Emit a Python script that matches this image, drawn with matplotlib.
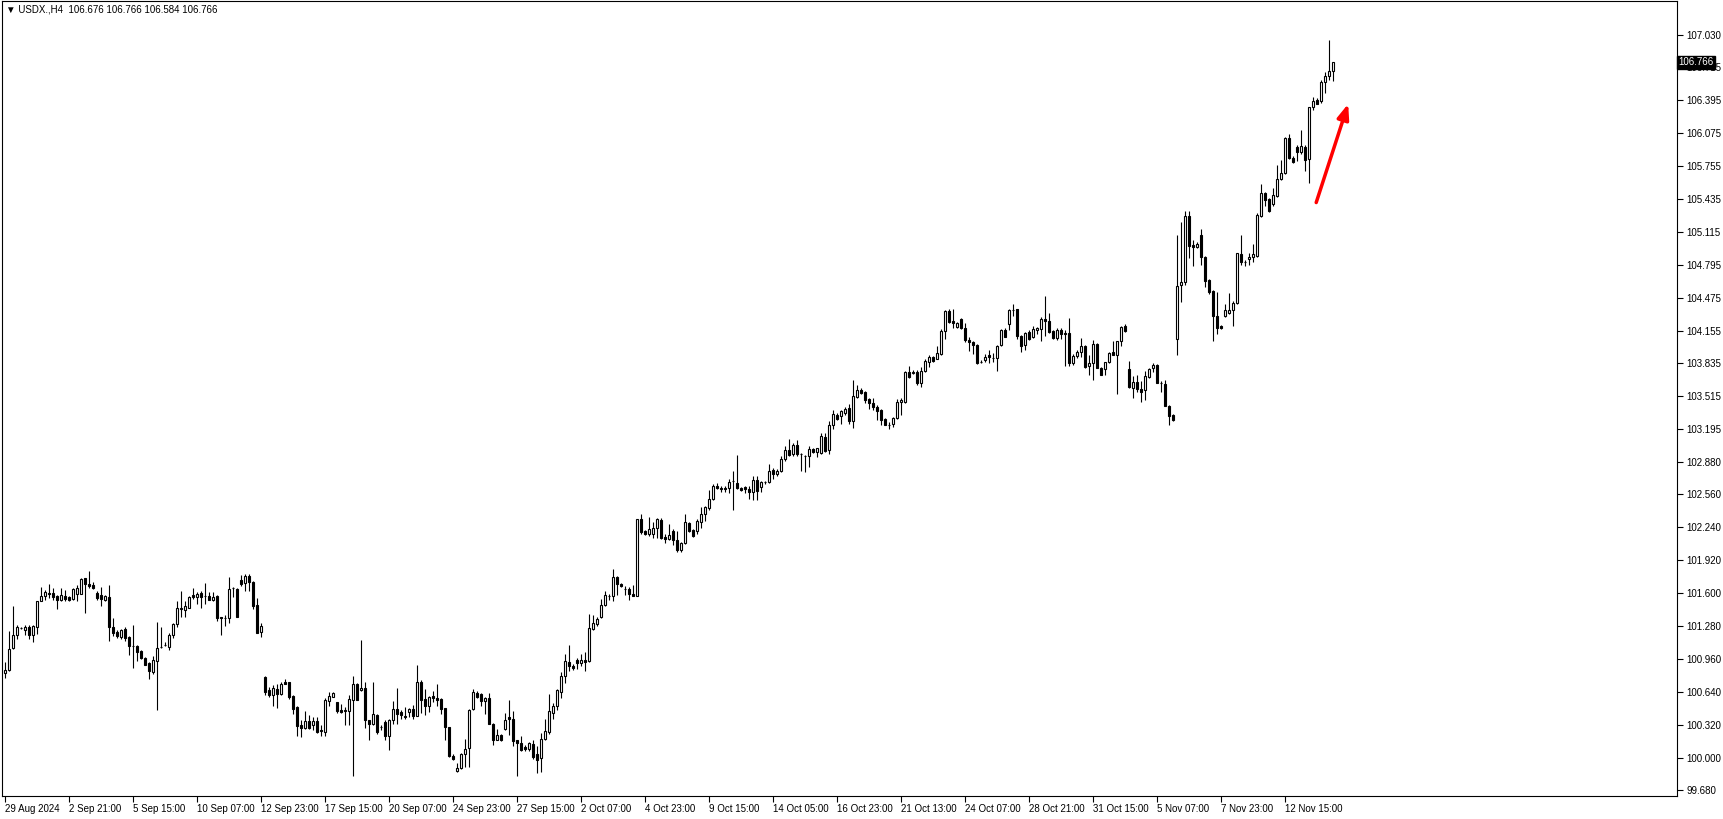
import numpy as np
import matplotlib
matplotlib.use("Agg")
import matplotlib.pyplot as plt
import matplotlib.transforms as mtransforms

plt.rcParams['font.family'] = ['Liberation Sans', 'DejaVu Sans']

# USDX H4 candles (oldest first)
opens = [
    100.82,100.85,101.07,101.19,101.26,101.24,101.27,101.19,101.27,101.52,101.57,101.60,101.60,101.57,101.53,101.57,101.56,101.54,101.59,101.59,101.75,101.69,101.68,101.60,101.58,101.53,101.56,101.27,101.22,101.17,101.25,101.17,101.09,101.09,
    101.04,100.97,100.92,100.83,100.94,101.08,101.10,101.08,101.19,101.30,101.45,101.44,101.46,101.58,101.56,101.60,101.57,101.57,101.53,101.57,101.37,101.36,101.36,101.65,101.64,101.73,101.70,101.77,101.71,101.48,101.22,100.78,100.66,100.61,
    100.67,100.62,100.74,100.74,100.60,100.49,100.32,100.29,100.36,100.32,100.36,100.27,100.25,100.55,100.59,100.54,100.46,100.46,100.45,100.56,100.72,100.66,100.68,100.37,100.33,100.41,100.30,100.35,100.21,100.37,100.47,100.44,100.40,100.44,
    100.47,100.40,100.74,100.57,100.50,100.60,100.58,100.57,100.48,100.30,100.02,99.87,99.90,100.03,100.09,100.47,100.63,100.62,100.55,100.58,100.33,100.17,100.22,100.28,100.39,100.38,100.17,100.14,100.10,100.08,100.13,100.03,100.00,
    100.18,100.25,100.43,100.50,100.64,100.79,100.93,100.89,100.95,100.92,100.95,100.94,101.25,101.30,101.37,101.48,101.57,101.57,101.76,101.69,101.64,101.64,101.59,101.57,102.32,102.20,102.18,102.18,102.23,102.31,102.15,102.13,102.20,102.12,
    102.02,102.09,102.28,102.21,102.20,102.29,102.37,102.43,102.52,102.64,102.62,102.62,102.62,102.69,102.67,102.62,102.63,102.61,102.58,102.70,102.63,102.68,102.68,102.80,102.76,102.79,102.90,102.99,102.95,103.04,102.95,102.93,102.93,103.00,
    102.97,102.96,103.12,102.99,103.24,103.33,103.32,103.35,103.40,103.27,103.51,103.58,103.56,103.49,103.45,103.41,103.38,103.29,103.24,103.25,103.30,103.46,103.46,103.75,103.74,103.75,103.64,103.76,103.85,103.90,103.88,103.93,104.15,
    104.34,104.25,104.19,104.27,104.18,104.06,104.04,104.01,103.85,103.87,103.92,103.89,103.89,104.01,104.16,104.22,104.35,104.36,104.10,104.01,104.14,104.09,104.16,104.17,104.27,104.25,104.15,104.08,104.16,104.13,104.13,103.84,103.91,103.95,
    104.00,103.81,103.84,104.02,103.79,103.78,103.85,103.95,103.92,104.05,104.20,103.78,103.60,103.65,103.59,103.58,103.70,103.79,103.82,103.64,103.63,103.42,103.33,104.07,104.60,104.63,105.27,104.99,104.97,105.08,104.87,104.65,104.54,104.30,
    104.20,104.30,104.33,104.35,104.42,104.90,104.82,104.85,104.87,104.88,105.27,105.49,105.43,105.39,105.46,105.63,105.69,106.03,105.83,105.94,105.89,105.94,105.82,106.33,106.40,106.39,106.57,106.63,106.676,
]
highs = [
    100.93,101.23,101.47,101.29,101.27,101.29,101.29,101.29,101.52,101.66,101.63,101.69,101.65,101.58,101.65,101.63,101.57,101.65,101.68,101.75,101.75,101.82,101.71,101.62,101.66,101.58,101.68,101.36,101.24,101.25,101.27,101.18,101.29,101.10,
    101.05,100.98,100.93,100.99,101.32,101.27,101.12,101.21,101.31,101.52,101.62,101.52,101.57,101.65,101.61,101.62,101.70,101.61,101.61,101.58,101.37,101.39,101.76,101.66,101.65,101.78,101.79,101.79,101.72,101.55,101.31,100.79,100.69,100.71,
    100.72,100.74,100.76,100.74,100.61,100.50,100.37,100.45,100.41,100.39,100.39,100.32,100.58,100.64,100.64,100.54,100.52,100.49,100.61,100.79,100.73,101.14,100.74,100.37,100.74,100.42,100.32,100.37,100.38,100.55,100.68,100.46,100.49,100.48,
    100.51,100.90,100.75,100.67,100.60,100.65,100.72,100.58,100.48,100.30,100.03,99.95,100.04,100.18,100.47,100.67,100.65,100.63,100.59,100.63,100.34,100.28,100.23,100.43,100.56,100.45,100.17,100.21,100.12,100.15,100.17,100.11,100.24,
    100.38,100.62,100.53,100.67,100.83,101.01,101.10,100.91,100.97,101.01,101.03,101.40,101.39,101.37,101.54,101.62,101.59,101.83,101.77,101.70,101.67,101.66,101.68,102.32,102.37,102.21,102.34,102.29,102.33,102.33,102.18,102.27,102.22,102.20,
    102.10,102.37,102.29,102.22,102.32,102.44,102.45,102.60,102.66,102.67,102.64,102.64,102.71,102.79,102.94,102.63,102.64,102.64,102.74,102.74,102.69,102.69,102.86,102.82,102.81,102.93,103.03,103.10,103.06,103.09,102.96,102.94,103.03,103.01,
    103.01,103.16,103.16,103.27,103.38,103.35,103.38,103.41,103.44,103.67,103.62,103.60,103.57,103.50,103.50,103.43,103.39,103.30,103.26,103.31,103.49,103.50,103.76,103.81,103.77,103.77,103.80,103.88,103.92,103.91,104.00,104.17,104.35,
    104.36,104.36,104.24,104.28,104.23,104.09,104.05,104.02,103.87,103.93,103.97,103.94,104.01,104.17,104.18,104.36,104.41,104.36,104.11,104.14,104.16,104.20,104.19,104.29,104.49,104.33,104.16,104.18,104.18,104.16,104.28,103.93,103.97,104.08,
    104.01,103.92,104.06,104.03,103.80,103.85,103.95,104.05,104.05,104.20,104.22,103.86,103.71,103.72,103.66,103.76,103.79,103.84,103.83,103.66,103.67,103.43,103.34,105.08,105.21,105.32,105.32,105.04,105.02,105.14,104.88,104.66,104.55,104.53,
    104.21,104.41,104.52,104.44,104.91,105.08,104.84,104.91,105.00,105.30,105.58,105.50,105.44,105.54,105.77,105.81,106.04,106.07,105.85,105.96,106.11,105.96,106.33,106.43,106.42,106.59,106.67,106.98,106.766,
]
lows = [
    100.77,100.84,101.06,101.15,101.25,101.19,101.15,101.12,101.20,101.52,101.53,101.55,101.53,101.45,101.52,101.52,101.52,101.53,101.52,101.59,101.41,101.65,101.64,101.53,101.47,101.52,101.13,101.18,101.16,101.15,101.13,101.00,100.87,100.94,
    100.96,100.90,100.76,100.81,100.46,101.07,101.09,101.05,101.16,101.27,101.37,101.37,101.46,101.54,101.49,101.46,101.49,101.53,101.52,101.33,101.19,101.28,101.31,101.56,101.37,101.67,101.62,101.62,101.45,101.21,101.17,100.61,100.59,100.50,
    100.48,100.61,100.72,100.57,100.42,100.21,100.20,100.28,100.28,100.27,100.24,100.21,100.21,100.50,100.59,100.43,100.43,100.32,100.32,99.82,100.56,100.65,100.29,100.17,100.32,100.23,100.27,100.17,100.07,100.33,100.33,100.38,100.38,100.39,
    100.38,100.40,100.43,100.41,100.44,100.54,100.50,100.42,100.17,100.01,99.98,99.86,99.89,99.91,99.91,100.46,100.58,100.50,100.42,100.33,100.12,100.17,100.16,100.27,100.22,100.11,99.82,100.06,100.06,100.06,99.99,99.85,99.86,
    100.17,100.23,100.38,100.46,100.58,100.73,100.84,100.85,100.86,100.89,100.84,100.93,101.24,101.28,101.36,101.47,101.53,101.52,101.58,101.66,101.58,101.53,101.57,101.57,102.18,102.17,102.16,102.14,102.14,102.13,102.09,102.12,102.07,102.00,
    102.00,102.08,102.19,102.15,102.18,102.23,102.30,102.41,102.51,102.61,102.58,102.58,102.57,102.41,102.61,102.59,102.57,102.52,102.51,102.51,102.58,102.66,102.67,102.71,102.74,102.78,102.89,102.93,102.93,102.93,102.79,102.78,102.83,102.96,
    102.92,102.95,102.97,102.95,103.20,103.28,103.25,103.33,103.25,103.21,103.50,103.54,103.45,103.39,103.38,103.28,103.24,103.24,103.20,103.22,103.29,103.33,103.45,103.69,103.73,103.62,103.61,103.75,103.80,103.85,103.88,103.92,104.07,
    104.23,104.18,104.18,104.17,104.04,103.96,103.93,103.83,103.84,103.85,103.84,103.85,103.76,104.00,104.09,104.16,104.30,104.07,103.95,103.97,104.06,104.08,104.12,104.05,104.10,104.13,104.07,104.06,104.07,103.81,103.81,103.82,103.89,103.90,
    103.79,103.72,103.67,103.79,103.72,103.72,103.84,103.92,103.54,104.00,104.14,103.60,103.50,103.56,103.46,103.48,103.69,103.75,103.64,103.56,103.42,103.24,103.27,103.92,104.43,104.60,104.86,104.78,104.96,104.79,104.58,104.51,104.05,104.12,
    104.17,104.29,104.32,104.20,104.41,104.79,104.78,104.79,104.82,104.87,105.26,105.37,105.31,105.37,105.45,105.62,105.68,105.82,105.78,105.80,105.87,105.71,105.59,106.30,106.36,106.37,106.47,106.59,106.584,
]
closes = [
    100.85,101.06,101.19,101.27,101.26,101.27,101.19,101.28,101.52,101.57,101.61,101.59,101.56,101.53,101.58,101.54,101.53,101.64,101.65,101.74,101.69,101.67,101.65,101.55,101.54,101.57,101.27,101.21,101.18,101.24,101.16,101.09,101.09,101.03,
    100.97,100.90,100.84,100.95,101.07,101.08,101.10,101.19,101.30,101.46,101.46,101.47,101.56,101.56,101.59,101.56,101.57,101.53,101.56,101.36,101.36,101.36,101.64,101.65,101.37,101.69,101.77,101.71,101.47,101.21,101.28,100.64,100.61,100.68,
    100.62,100.72,100.72,100.59,100.47,100.31,100.29,100.36,100.29,100.36,100.25,100.26,100.56,100.60,100.63,100.45,100.44,100.45,100.57,100.72,100.56,100.68,100.37,100.33,100.42,100.25,100.30,100.21,100.37,100.47,100.42,100.41,100.39,100.47,
    100.40,100.74,100.56,100.50,100.59,100.58,100.56,100.47,100.30,100.02,99.99,99.90,100.03,100.08,100.46,100.64,100.59,100.55,100.58,100.33,100.17,100.22,100.17,100.37,100.38,100.16,100.14,100.07,100.08,100.14,100.01,99.98,100.18,
    100.26,100.45,100.50,100.66,100.79,100.94,100.89,100.87,100.92,100.95,100.93,101.26,101.31,101.35,101.48,101.58,101.57,101.76,101.69,101.67,101.64,101.59,101.57,102.32,102.19,102.18,102.22,102.23,102.32,102.14,102.13,102.17,102.12,102.02,
    102.09,102.29,102.20,102.16,102.30,102.37,102.44,102.52,102.64,102.62,102.61,102.61,102.68,102.69,102.62,102.60,102.61,102.58,102.70,102.59,102.68,102.68,102.79,102.76,102.79,102.90,102.99,102.94,103.04,102.95,102.95,102.93,103.00,102.97,
    103.01,103.13,102.98,103.24,103.34,103.29,103.37,103.39,103.27,103.52,103.58,103.55,103.48,103.45,103.41,103.37,103.28,103.24,103.24,103.30,103.46,103.48,103.75,103.70,103.75,103.64,103.76,103.86,103.90,103.86,103.94,104.15,104.34,
    104.24,104.23,104.23,104.18,104.06,104.04,104.01,103.84,103.85,103.90,103.90,103.89,104.00,104.16,104.09,104.35,104.35,104.10,104.00,104.13,104.07,104.17,104.18,104.27,104.25,104.14,104.08,104.16,104.12,104.12,103.84,103.91,103.95,104.00,
    103.80,103.84,104.02,103.79,103.72,103.85,103.94,103.92,104.05,104.19,104.15,103.61,103.65,103.59,103.56,103.71,103.78,103.82,103.64,103.64,103.42,103.32,103.28,104.59,104.63,105.27,104.98,104.97,105.00,104.87,104.64,104.53,104.30,104.18,
    104.18,104.35,104.35,104.42,104.91,104.82,104.82,104.87,104.90,105.28,105.49,105.42,105.32,105.47,105.63,105.69,106.03,105.83,105.79,105.89,105.95,105.81,106.33,106.39,106.36,106.57,106.63,106.68,106.766,
]

# axis labels as MT4 prints them
price_ticks = [107.030, 106.715, 106.395, 106.075, 105.755, 105.435, 105.115, 104.795,
               104.475, 104.155, 103.835, 103.515, 103.195, 102.880, 102.560, 102.240,
               101.920, 101.600, 101.280, 100.960, 100.640, 100.320, 100.000, 99.680]
time_labels = ['29 Aug 2024', '2 Sep 21:00', '5 Sep 15:00', '10 Sep 07:00', '12 Sep 23:00',
               '17 Sep 15:00', '20 Sep 07:00', '24 Sep 23:00', '27 Sep 15:00', '2 Oct 07:00',
               '4 Oct 23:00', '9 Oct 15:00', '14 Oct 05:00', '16 Oct 23:00', '21 Oct 13:00',
               '24 Oct 07:00', '28 Oct 21:00', '31 Oct 15:00', '5 Nov 07:00', '7 Nov 23:00',
               '12 Nov 15:00']
bars_per_label = 16
last_price = 106.766
header = '\u25bc USDX.,H4  106.676 106.766 106.584 106.766'

o = np.array(opens)
h = np.array(highs)
l = np.array(lows)
c = np.array(closes)
x = np.arange(len(c))

W, H = 1724, 819
fig = plt.figure(figsize=(W / 100, H / 100), dpi=100)
fig.patch.set_facecolor('white')
ax = fig.add_axes([2 / W, 1 - 796 / H, 1675 / W, 795 / H])

# wicks then bodies
ax.vlines(x, l, h, color='black', lw=0.8, zorder=2)
up = c >= o
bottom = np.minimum(o, c)
height = np.abs(c - o)
ax.bar(x[up], height[up], bottom=bottom[up], width=0.45, color='white',
       edgecolor='black', linewidth=0.8, zorder=3)
ax.bar(x[~up], height[~up], bottom=bottom[~up], width=0.45, color='black',
       edgecolor='black', linewidth=0.8, zorder=3)

ax.set_xlim(-0.75, 418)
ax.set_ylim(99.626, 107.361)

ax.yaxis.tick_right()
ax.set_yticks(price_ticks)
ax.set_yticklabels(['%.3f' % p for p in price_ticks])
ax.tick_params(axis='y', direction='out', length=4, width=0.8, pad=3,
               labelsize=7, colors='black')

ax.set_xticks(np.arange(len(time_labels)) * bars_per_label)
ax.set_xticklabels(time_labels)
for t in ax.get_xticklabels():
    t.set_ha('left')
ax.tick_params(axis='x', direction='out', length=4, width=0.8, pad=2,
               labelsize=7, colors='black')

for s in ax.spines.values():
    s.set_color('black')
    s.set_linewidth(0.8)

# current price box on the right axis
trans = mtransforms.blended_transform_factory(ax.transAxes, ax.transData)
ax.text(1.001, last_price, '%.3f' % last_price, transform=trans, fontsize=7,
        color='white', va='center', ha='left', clip_on=False, zorder=10,
        bbox=dict(boxstyle='square,pad=0.15', fc='black', ec='black'))

# header
fig.text(6 / W, 1 - 10 / H, header, fontsize=7, va='center', ha='left',
         color='black')

# red arrow
ax.annotate('', xy=(335.8, 106.36), xytext=(327.8, 105.40),
            arrowprops=dict(arrowstyle='-|>,head_length=0.9,head_width=0.35',
                            color='#ff0000', lw=2.5, shrinkA=0, shrinkB=0),
            zorder=5)

fig.savefig('out.png', dpi=100)
